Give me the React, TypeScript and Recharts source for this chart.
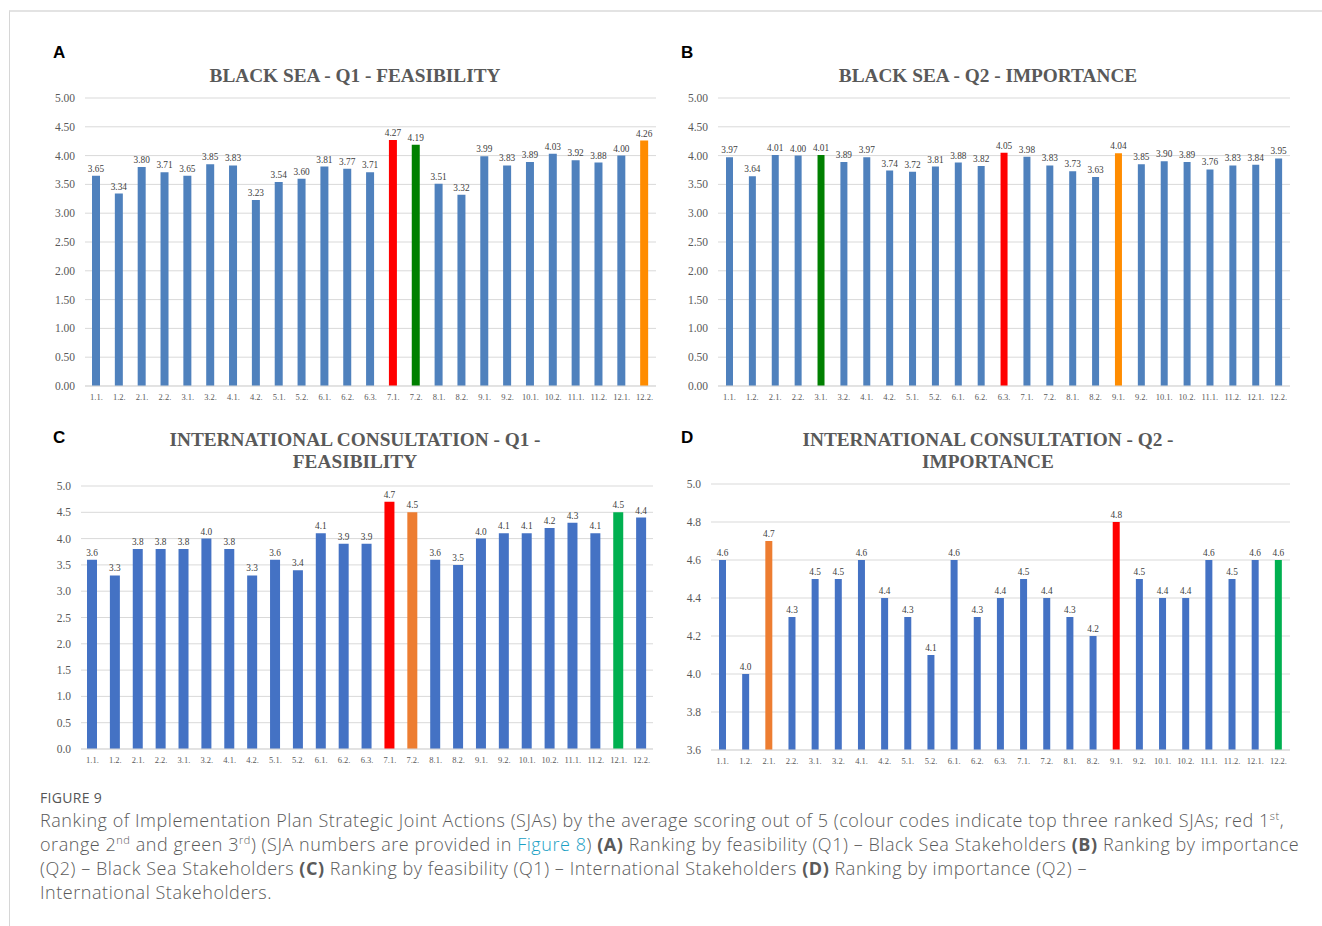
import { BarChart, Bar, XAxis, YAxis, CartesianGrid, LabelList, Cell } from "recharts";

const sjaCodes = [
  "1.1.", "1.2.", "2.1.", "2.2.", "3.1.", "3.2.", "4.1.", "4.2.", "5.1.", "5.2.",
  "6.1.", "6.2.", "6.3.", "7.1.", "7.2.", "8.1.", "8.2.", "9.1.", "9.2.", "10.1.",
  "10.2.", "11.1.", "11.2.", "12.1.", "12.2.",
];

const blackSeaFeasibility = [
  3.65, 3.34, 3.8, 3.71, 3.65, 3.85, 3.83, 3.23, 3.54, 3.6, 3.81, 3.77, 3.71,
  4.27, 4.19, 3.51, 3.32, 3.99, 3.83, 3.89, 4.03, 3.92, 3.88, 4.0, 4.26,
];
const blackSeaImportance = [
  3.97, 3.64, 4.01, 4.0, 4.01, 3.89, 3.97, 3.74, 3.72, 3.81, 3.88, 3.82, 4.05,
  3.98, 3.83, 3.73, 3.63, 4.04, 3.85, 3.9, 3.89, 3.76, 3.83, 3.84, 3.95,
];
const intlFeasibility = [
  3.6, 3.3, 3.8, 3.8, 3.8, 4.0, 3.8, 3.3, 3.6, 3.4, 4.1, 3.9, 3.9,
  4.7, 4.5, 3.6, 3.5, 4.0, 4.1, 4.1, 4.2, 4.3, 4.1, 4.5, 4.4,
];
const intlImportance = [
  4.6, 4.0, 4.7, 4.3, 4.5, 4.5, 4.6, 4.4, 4.3, 4.1, 4.6, 4.3, 4.4,
  4.5, 4.4, 4.3, 4.2, 4.8, 4.5, 4.4, 4.4, 4.6, 4.5, 4.6, 4.6,
];

// top three ranked SJAs: [1st, 2nd, 3rd]
const blackSeaFeasibilityTop = ["7.1.", "12.2.", "7.2."];
const blackSeaImportanceTop = ["6.3.", "9.1.", "3.1."];
const intlFeasibilityTop = ["7.1.", "7.2.", "12.1."];
const intlImportanceTop = ["9.1.", "2.1.", "12.2."];

const ticksOutOfFive = [0, 0.5, 1, 1.5, 2, 2.5, 3, 3.5, 4, 4.5, 5];
const ticksImportance = [3.6, 3.8, 4.0, 4.2, 4.4, 4.6, 4.8, 5.0];

const serif = '"Liberation Serif", "Times New Roman", serif';

const oldPalette = { base: "#4F81BD", ranks: ["#FF0000", "#FF8C00", "#008000"] };
const newPalette = { base: "#4472C4", ranks: ["#FF0000", "#ED7D31", "#00B050"] };

type PanelProps = {
  letter: string;
  title: string[];
  values: number[];
  top3: string[];
  palette: { base: string; ranks: string[] };
  decimals: number;
  ticks: number[];
  left: number;
  top: number;
  width: number;
  height: number;
  yWidth: number;
  barSize: number;
  titleTop: number;
  titleCenter: number;
  letterTop: number;
};

function Panel(p: PanelProps) {
  const rows = sjaCodes.map((code, i) => ({ code, value: p.values[i] }));
  const domain = [p.ticks[0], p.ticks[p.ticks.length - 1]];
  return (
    <>
      <div
        style={{
          position: "absolute",
          left: p.left + 13,
          top: p.letterTop,
          fontFamily: '"Liberation Sans", Arial, sans-serif',
          fontWeight: 700,
          fontSize: 17,
          color: "#000",
        }}
      >
        {p.letter}
      </div>
      <div
        style={{
          position: "absolute",
          left: p.titleCenter - 300,
          width: 600,
          top: p.titleTop - 11,
          textAlign: "center",
          fontFamily: serif,
          fontWeight: 700,
          fontSize: 19.3,
          lineHeight: "22px",
          color: "#595959",
        }}
      >
        {p.title.map((t) => (
          <div key={t}>{t}</div>
        ))}
      </div>
      <div style={{ position: "absolute", left: p.left, top: p.top }}>
        <BarChart
          width={p.width}
          height={p.height}
          data={rows}
          margin={{ top: 10, right: 0, left: 0, bottom: 0 }}
          barSize={p.barSize}
        >
          <CartesianGrid vertical={false} stroke="#d9d9d9" />
          <XAxis
            dataKey="code"
            interval={0}
            height={22}
            tickLine={false}
            axisLine={{ stroke: "#d9d9d9" }}
            tick={{ fontFamily: serif, fontSize: 8.5, fill: "#595959" }}
          />
          <YAxis
            width={p.yWidth}
            domain={domain}
            ticks={p.ticks}
            allowDataOverflow
            tickLine={false}
            axisLine={false}
            tickMargin={4}
            tickFormatter={(v: number) => v.toFixed(p.decimals)}
            tick={{ fontFamily: serif, fontSize: 11.5, fill: "#595959" }}
          />
          <Bar dataKey="value" isAnimationActive={false}>
            {rows.map((r) => {
              const rank = p.top3.indexOf(r.code);
              return <Cell key={r.code} fill={rank >= 0 ? p.palette.ranks[rank] : p.palette.base} />;
            })}
            <LabelList
              dataKey="value"
              position="top"
              offset={4}
              formatter={(v: number) => v.toFixed(p.decimals)}
              style={{ fontFamily: serif, fontSize: 9.3, fill: "#404040" }}
            />
          </Bar>
        </BarChart>
      </div>
    </>
  );
}

const sup = { fontSize: 11, position: "relative" as const, top: -7, lineHeight: 0 };

export default function App() {
  return (
    <div
      style={{
        position: "absolute",
        left: 0,
        top: 0,
        width: 1322,
        height: 926,
        background: "#fff",
        overflow: "hidden",
      }}
    >
      <div
        style={{
          position: "absolute",
          left: 9,
          top: 10,
          width: 1322,
          height: 930,
          borderTop: "2px solid #e3e3e3",
          borderLeft: "1px solid #d6d6d6",
        }}
      />
      <Panel
        letter="A"
        title={["BLACK SEA - Q1 - FEASIBILITY"]}
        values={blackSeaFeasibility}
        top3={blackSeaFeasibilityTop}
        palette={oldPalette}
        decimals={2}
        ticks={ticksOutOfFive}
        left={40}
        top={88}
        width={616}
        height={320}
        yWidth={45}
        barSize={8}
        titleTop={76}
        titleCenter={355}
        letterTop={43}
      />
      <Panel
        letter="B"
        title={["BLACK SEA - Q2 - IMPORTANCE"]}
        values={blackSeaImportance}
        top3={blackSeaImportanceTop}
        palette={oldPalette}
        decimals={2}
        ticks={ticksOutOfFive}
        left={668}
        top={88}
        width={622}
        height={320}
        yWidth={50}
        barSize={7}
        titleTop={76}
        titleCenter={988}
        letterTop={43}
      />
      <Panel
        letter="C"
        title={["INTERNATIONAL CONSULTATION - Q1 -", "FEASIBILITY"]}
        values={intlFeasibility}
        top3={intlFeasibilityTop}
        palette={newPalette}
        decimals={1}
        ticks={ticksOutOfFive}
        left={40}
        top={476}
        width={613}
        height={295}
        yWidth={41}
        barSize={10}
        titleTop={440}
        titleCenter={355}
        letterTop={428}
      />
      <Panel
        letter="D"
        title={["INTERNATIONAL CONSULTATION - Q2 -", "IMPORTANCE"]}
        values={intlImportance}
        top3={intlImportanceTop}
        palette={newPalette}
        decimals={1}
        ticks={ticksImportance}
        left={668}
        top={474}
        width={622}
        height={298}
        yWidth={43}
        barSize={7}
        titleTop={440}
        titleCenter={988}
        letterTop={428}
      />
      <div
        style={{
          position: "absolute",
          left: 40,
          top: 788,
          fontFamily: '"Open Sans", sans-serif',
          fontSize: 14,
          letterSpacing: 0.3,
          color: "#555",
        }}
      >
        FIGURE 9
      </div>
      <div
        style={{
          position: "absolute",
          left: 40,
          top: 808,
          width: 1270,
          fontFamily: '"Open Sans", sans-serif',
          fontWeight: 300,
          fontSize: 18,
          letterSpacing: 0.55,
          lineHeight: "24px",
          color: "#5a5a5a",
          whiteSpace: "nowrap",
        }}
      >
        Ranking of Implementation Plan Strategic Joint Actions (SJAs) by the average scoring out of 5 (colour codes indicate top three ranked SJAs; red 1
        <span style={sup}>st</span>,
        <br />
        orange 2<span style={sup}>nd</span> and green 3<span style={sup}>rd</span>) (SJA numbers are provided in{" "}
        <span style={{ color: "#1aa0c4" }}>Figure 8</span>) <b style={{ fontWeight: 700 }}>(A)</b> Ranking by feasibility (Q1) – Black Sea Stakeholders{" "}
        <b style={{ fontWeight: 700 }}>(B)</b> Ranking by importance
        <br />
        (Q2) – Black Sea Stakeholders <b style={{ fontWeight: 700 }}>(C)</b> Ranking by feasibility (Q1) – International Stakeholders{" "}
        <b style={{ fontWeight: 700 }}>(D)</b> Ranking by importance (Q2) –
        <br />
        International Stakeholders.
      </div>
    </div>
  );
}
